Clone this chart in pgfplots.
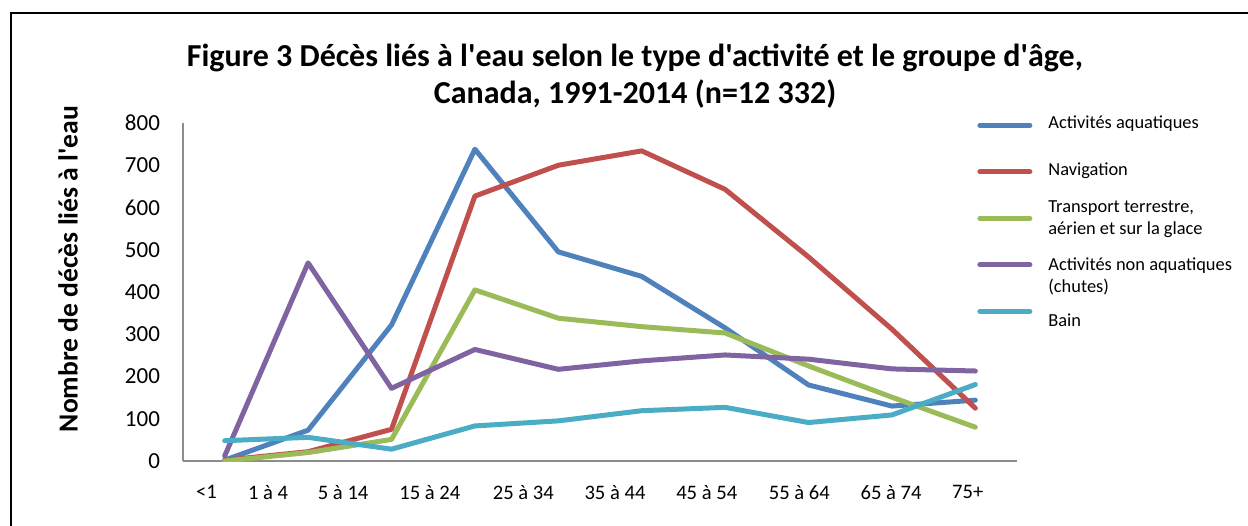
\documentclass[border=0pt]{standalone}
\usepackage{pgfplots}
\pgfplotsset{compat=1.18}
\usepackage{fontspec}
\setmainfont{Carlito}[Ligatures=TeXOff]
\definecolor{cBlue}{HTML}{4F81BD}
\definecolor{cRed}{HTML}{C0504D}
\definecolor{cGreen}{HTML}{9BBB59}
\definecolor{cPurple}{HTML}{8064A2}
\definecolor{cCyan}{HTML}{4BACC6}
\begin{document}
\begin{tikzpicture}
\useasboundingbox (0,0) rectangle (624pt,262.5pt);
\draw[line width=1.1pt] (5.5pt,-5pt) -- (5.5pt,256pt) -- (630pt,256pt);
\begin{axis}[
  at={(91.5pt,32pt)}, anchor=south west,
  width=417pt, height=169pt, scale only axis,
  xmin=-0.5, xmax=9.5, ymin=0, ymax=800,
  axis x line*=bottom, axis y line*=left,
  axis line style={-, draw=black!45, line width=0.8pt},
  major tick length=0pt,
  ytick={0,100,...,800},
  xtick={-0.22,0.52,1.42,2.46,3.58,4.68,5.78,6.89,7.99,8.91},
  xticklabels={<1,1 à 4,5 à 14,15 à 24,25 à 34,35 à 44,45 à 54,55 à 64,65 à 74,75+},
  /pgf/number format/assume math mode=true,
  yticklabel style={xshift=-8pt, font=\fontsize{11.5}{13}\selectfont},
  xticklabel style={yshift=-8.5pt, font=\fontsize{10.3}{12}\selectfont},
  legend cell align=left,
  legend style={at={(0.952,1.063)}, anchor=north west, draw=none, fill=none,
    inner sep=0pt, column sep=8pt, row sep=0pt,
    font=\fontsize{9.2}{11}\selectfont,
    nodes={inner sep=0pt, minimum height=23.25pt}},
  legend image code/.code={\draw[#1, line width=2.5pt] (0pt,0pt) -- (25pt,0pt);},
  every axis plot/.append style={line width=2.5pt, line join=round, line cap=round, mark=none},
]
\addplot[cBlue] coordinates {(0,2) (1,73) (2,322) (3,738) (4,495) (5,437) (6,315) (7,180) (8,130) (9,144)};
\addlegendentry{\raisebox{2pt}{Activités aquatiques}}
\addplot[cRed] coordinates {(0,2) (1,22) (2,75) (3,627) (4,700) (5,734) (6,643) (7,483) (8,312) (9,125)};
\addlegendentry{\raisebox{1.5pt}{Navigation}}
\addplot[cGreen] coordinates {(0,0) (1,20) (2,51) (3,405) (4,338) (5,318) (6,303) (7,225) (8,151) (9,80)};
\addlegendentry{\raisebox{6.5pt}{\begin{tabular}{@{}l@{}}Transport terrestre,\\aérien et sur la glace\end{tabular}}}
\addplot[cPurple] coordinates {(0,12) (1,469) (2,172) (3,264) (4,217) (5,237) (6,251) (7,241) (8,218) (9,213)};
\addlegendentry{\raisebox{-4.5pt}{\begin{tabular}{@{}l@{}}Activités non aquatiques\\(chutes)\end{tabular}}}
\addplot[cCyan] coordinates {(0,48) (1,56) (2,28) (3,83) (4,95) (5,119) (6,127) (7,91) (8,109) (9,181)};
\addlegendentry{\raisebox{-8.5pt}{Bain}}
\end{axis}
\node[font=\bfseries\fontsize{16}{19}\selectfont, anchor=base] at (317.5pt,229pt) {Figure 3 Décès liés à l'eau selon le type d'activité et le groupe d'âge,};
\node[font=\bfseries\fontsize{16}{19}\selectfont, anchor=base] at (317.5pt,210.5pt) {Canada, 1991-2014 (n=12 332)};
\node[font=\bfseries\fontsize{13.8}{16}\selectfont, rotate=90] at (34pt,128pt) {Nombre de décès liés à l'eau};
\end{tikzpicture}
\end{document}
